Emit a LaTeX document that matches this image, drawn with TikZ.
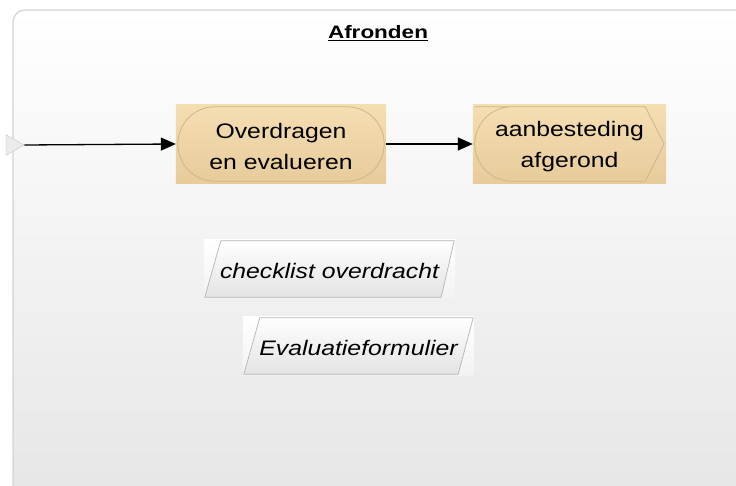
\documentclass[tikz,border=0pt]{standalone}
\usepackage{fontspec}
\setmainfont{Liberation Sans}
\newfontfamily\widefont[FakeStretch=1.18]{Liberation Sans}
\newfontfamily\titlefont[FakeStretch=1.25]{Liberation Sans}
\usetikzlibrary{arrows.meta,shapes.geometric,backgrounds,calc}
\definecolor{tanTop}{HTML}{F5DEB2}
\definecolor{tanBot}{HTML}{E7CB9B}
\definecolor{tanLine}{HTML}{CDB68C}
\definecolor{frameLine}{HTML}{D2D2D2}
\definecolor{docLine}{HTML}{B4B4B4}
\newcommand{\upstrut}{\rule{0pt}{20pt}}
\tikzset{
  procbox/.style={rectangle, inner sep=0pt, minimum width=210pt, minimum height=78pt,
    align=center, font=\widefont\fontsize{21}{31.5}\selectfont},
  docbox/.style={rectangle, inner sep=0pt, minimum height=58pt,
    font=\widefont\itshape\fontsize{21}{25}\selectfont},
  procfill/.style={top color=tanTop, bottom color=tanBot},
  procshape/.style={top color=tanTop, bottom color=tanBot, draw=tanLine, line width=0.8pt},
  docfill/.style={top color=white, bottom color=black!5},
  docshape/.style={top color=white, bottom color=black!11, draw=docLine, line width=0.7pt},
  flow/.style={draw=black, line width=1.3pt, -{Triangle[length=15pt,width=13pt]}},
}
\begin{document}
\begin{tikzpicture}[x=1pt,y=-1pt]
\useasboundingbox (0,0) rectangle (736,486);

\node[font=\titlefont\bfseries\fontsize{18}{21}\selectfont] (title) at (378,33)
  {\underline{Afronden}};

\node[isosceles triangle, isosceles triangle apex angle=60, draw=black!22, fill=black!8,
  inner sep=0pt, minimum height=18pt, minimum width=18pt] (start) at (12,145) {};

\node[procbox] (n1) at (281,144) {\upstrut Overdragen\\en evalueren};
\node[procbox, minimum width=193pt] (n2) at (569.5,144) {\upstrut aanbesteding\\afgerond};
\node[docbox, minimum width=251pt] (d1) at (329.5,269) {\upstrut checklist overdracht};
\node[docbox, minimum width=231pt] (d2) at (358.5,346) {\upstrut Evaluatieformulier};

\draw[flow] (start.apex) -- (n1.west);
\draw[flow] (n1.east) -- (n2.west);

\begin{pgfonlayer}{background}
  \begin{scope}
    \clip (0,0) rectangle (736,486);
    \shade[top color=white, bottom color=black!10, draw=frameLine, line width=1.2pt,
      rounded corners=12pt] (13,10) rectangle (760,510);
  \end{scope}
  % process 1
  \shade[procfill] (n1.north west) rectangle (n1.south east);
  \shade[procshape, rounded corners=37pt]
    ($(n1.north west)+(2,2)$) rectangle ($(n1.south east)+(-2,-2)$);
  % process 2
  \shade[procfill] (n2.north west) rectangle (n2.south east);
  \shade[procshape]
    ($(n2.north west)+(39,2)$) -- ($(n2.north east)+(-21,2)$) -- ($(n2.east)+(-2,0)$)
    -- ($(n2.south east)+(-21,-2)$) -- ($(n2.south west)+(39,-2)$)
    [rounded corners=37pt] -- ($(n2.south west)+(2,-2)$) -- ($(n2.north west)+(2,2)$) -- cycle;
  % documents
  \shade[docfill] (d1.north west) rectangle (d1.south east);
  \shade[docshape] ($(d1.north west)+(17,1)$) -- ($(d1.north east)+(-1,1)$)
    -- ($(d1.south east)+(-14,-1)$) -- ($(d1.south west)+(1,-1)$) -- cycle;
  \shade[docfill] (d2.north west) rectangle (d2.south east);
  \shade[docshape] ($(d2.north west)+(17,1)$) -- ($(d2.north east)+(-1,1)$)
    -- ($(d2.south east)+(-16,-1)$) -- ($(d2.south west)+(1,-1)$) -- cycle;
\end{pgfonlayer}
\end{tikzpicture}
\end{document}
